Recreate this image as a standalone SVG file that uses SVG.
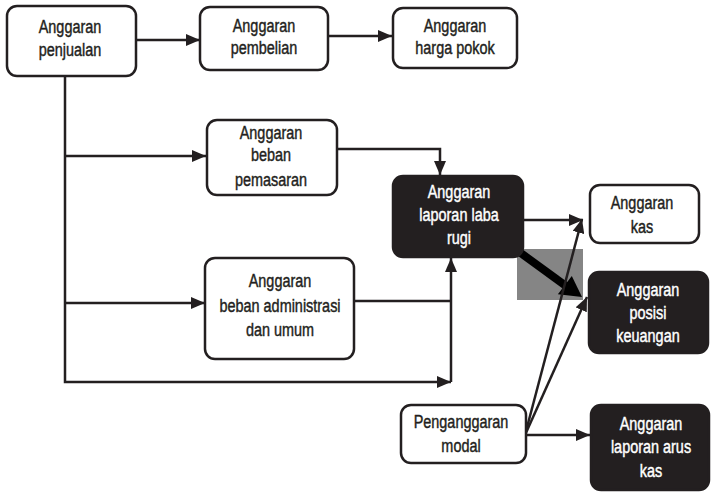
<svg xmlns="http://www.w3.org/2000/svg" width="712" height="492" viewBox="0 0 712 492">
  <style>
    .box { fill: #ffffff; stroke: #231f20; stroke-width: 2.5; }
    .dark { fill: #231f20; stroke: #231f20; stroke-width: 2.5; }
    .lbl { font-family: "Liberation Sans", Arial, sans-serif; font-size: 19px; text-anchor: middle; fill: #231f20; stroke: #231f20; stroke-width: 0.45; }
    .inv .lbl { fill: #ffffff; stroke: #ffffff; }
    .wire { fill: none; stroke: #231f20; stroke-width: 2.5; }
    .arrow { marker-end: url(#head); }
  </style>
  <defs>
    <marker id="head" markerUnits="userSpaceOnUse" viewBox="0 0 14 12" refX="14" refY="6" markerWidth="14" markerHeight="12" orient="auto">
      <path d="M0,0 L14,6 L0,12 z" fill="#231f20"/>
    </marker>
  </defs>
  <rect width="712" height="492" fill="#ffffff"/>

  <g id="connectors">
    <!-- highlighted flow from laba rugi to posisi keuangan -->
    <rect x="517" y="249" width="66" height="51" fill="#858585"/>
    <line x1="518" y1="251" x2="566" y2="286" stroke="#000000" stroke-width="8"/>
    <polygon points="582,297 557.9,294.2 571.8,276" fill="#000000"/>

    <path class="wire arrow" d="M136,40 H200"/>
    <path class="wire arrow" d="M328,36 H392"/>
    <path class="wire arrow" d="M65,77 V382 H451"/>
    <path class="wire arrow" d="M65,156 H206"/>
    <path class="wire arrow" d="M65,303 H205"/>
    <path class="wire arrow" d="M337,149 H440 V175"/>
    <path class="wire" d="M354,301 H451"/>
    <path class="wire arrow" d="M451,382 V258"/>
    <path class="wire arrow" d="M523,220 H583"/>
    <path class="wire arrow" d="M525,435 L582,219"/>
    <path class="wire arrow" d="M525,435 L587,297"/>
    <path class="wire arrow" d="M525,435 H590"/>
  </g>

  <!-- labels are set in a horizontally condensed face: each label block is scaled in x around its centre -->
  <g id="anggaran-penjualan">
    <rect class="box" x="7" y="6" width="129" height="70" rx="10"/>
    <g transform="translate(70 0) scale(0.76 1)">
      <text class="lbl" x="0" y="33">Anggaran</text>
      <text class="lbl" x="0" y="56">penjualan</text>
    </g>
  </g>

  <g id="anggaran-pembelian">
    <rect class="box" x="200" y="7" width="128" height="63" rx="10"/>
    <g transform="translate(264 0) scale(0.76 1)">
      <text class="lbl" x="0" y="32">Anggaran</text>
      <text class="lbl" x="0" y="54">pembelian</text>
    </g>
  </g>

  <g id="anggaran-harga-pokok">
    <rect class="box" x="393" y="8" width="124" height="60" rx="10"/>
    <g transform="translate(455 0) scale(0.76 1)">
      <text class="lbl" x="0" y="32">Anggaran</text>
      <text class="lbl" x="0" y="54">harga pokok</text>
    </g>
  </g>

  <g id="anggaran-beban-pemasaran">
    <rect class="box" x="207" y="120" width="130" height="75" rx="10"/>
    <g transform="translate(271 0) scale(0.76 1)">
      <text class="lbl" x="0" y="139">Anggaran</text>
      <text class="lbl" x="0" y="161">beban</text>
      <text class="lbl" x="0" y="186">pemasaran</text>
    </g>
  </g>

  <g id="anggaran-laporan-laba-rugi">
    <rect class="dark" x="393" y="176" width="130" height="81" rx="10"/>
    <g class="inv" transform="translate(459 0) scale(0.76 1)">
      <text class="lbl" x="0" y="198">Anggaran</text>
      <text class="lbl" x="0" y="221">laporan laba</text>
      <text class="lbl" x="0" y="244">rugi</text>
    </g>
  </g>

  <g id="anggaran-beban-administrasi">
    <rect class="box" x="205" y="258" width="149" height="101" rx="10"/>
    <g transform="translate(280 0) scale(0.76 1)">
      <text class="lbl" x="0" y="287">Anggaran</text>
      <text class="lbl" x="0" y="312">beban administrasi</text>
      <text class="lbl" x="0" y="336">dan umum</text>
    </g>
  </g>

  <g id="anggaran-kas">
    <rect class="box" x="590" y="185" width="109" height="58" rx="10"/>
    <g transform="translate(642 0) scale(0.76 1)">
      <text class="lbl" x="0" y="209">Anggaran</text>
      <text class="lbl" x="0" y="233">kas</text>
    </g>
  </g>

  <g id="anggaran-posisi-keuangan">
    <rect class="dark" x="589" y="272" width="119" height="81" rx="10"/>
    <g class="inv" transform="translate(648 0) scale(0.76 1)">
      <text class="lbl" x="0" y="296">Anggaran</text>
      <text class="lbl" x="0" y="319">posisi</text>
      <text class="lbl" x="0" y="342">keuangan</text>
    </g>
  </g>

  <g id="penganggaran-modal">
    <rect class="box" x="401" y="405" width="125" height="58" rx="10"/>
    <g transform="translate(461 0) scale(0.76 1)">
      <text class="lbl" x="0" y="428">Penganggaran</text>
      <text class="lbl" x="0" y="452">modal</text>
    </g>
  </g>

  <g id="anggaran-laporan-arus-kas">
    <rect class="dark" x="591" y="405" width="118" height="85" rx="10"/>
    <g class="inv" transform="translate(651 0) scale(0.76 1)">
      <text class="lbl" x="0" y="430">Anggaran</text>
      <text class="lbl" x="0" y="453">laporan arus</text>
      <text class="lbl" x="0" y="477">kas</text>
    </g>
  </g>
</svg>
